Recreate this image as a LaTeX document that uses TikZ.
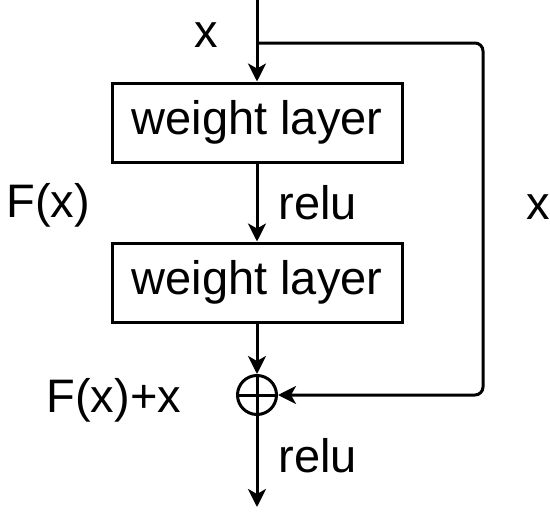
\documentclass[tikz,border=0pt]{standalone}
\usepackage{fontspec}
\setmainfont{Liberation Sans}
\usetikzlibrary{arrows.meta}
\begin{document}
\begin{tikzpicture}[x=1pt,y=-1pt, line width=3pt,
  arr/.style={-{Stealth[length=18pt,width=18pt,inset=5pt]}},
  bigtext/.style={font=\fontsize{47}{56}\selectfont},
  layerbox/.style={draw, bigtext, minimum width=290pt, minimum height=79pt, inner sep=0pt},
  lbl/.style={bigtext, inner sep=0pt, anchor=base west},
  sumnode/.style={draw, circle, minimum size=39pt, inner sep=0pt}]
\useasboundingbox (0,0) rectangle (550,512);
\node[layerbox] (box1) at (257,122.5) {weight layer};
\node[layerbox] (box2) at (257,282.5) {weight layer};
\node[sumnode] (sum) at (257,395) {};
\coordinate (top) at (257,0);
\coordinate (split) at (257,43);
\coordinate (c1) at (483,43);
\coordinate (c2) at (483,395);
\coordinate (bot) at (257,507);
\draw[arr] (top) -- (box1.north);
\draw[arr] (box1.south) -- (box2.north);
\draw[arr] (box2.south) -- (sum.north);
\draw[arr] (sum.south) -- (bot);
\draw (sum.north) -- (sum.south);
\draw (sum.west) -- (sum.east);
\draw[arr, rounded corners=8pt] (split) -- (c1) -- (c2) -- (sum.east);
\node[lbl] (lx) at (193,47) {x};
\node[lbl] (lrelu1) at (277,219) {relu};
\node[lbl] (lfx) at (5,217) {F(x)};
\node[lbl] (lxr) at (525,219) {x};
\node[lbl] (lfxx) at (45,412) {F(x)+x};
\node[lbl] (lrelu2) at (277,472) {relu};
\end{tikzpicture}
\end{document}
